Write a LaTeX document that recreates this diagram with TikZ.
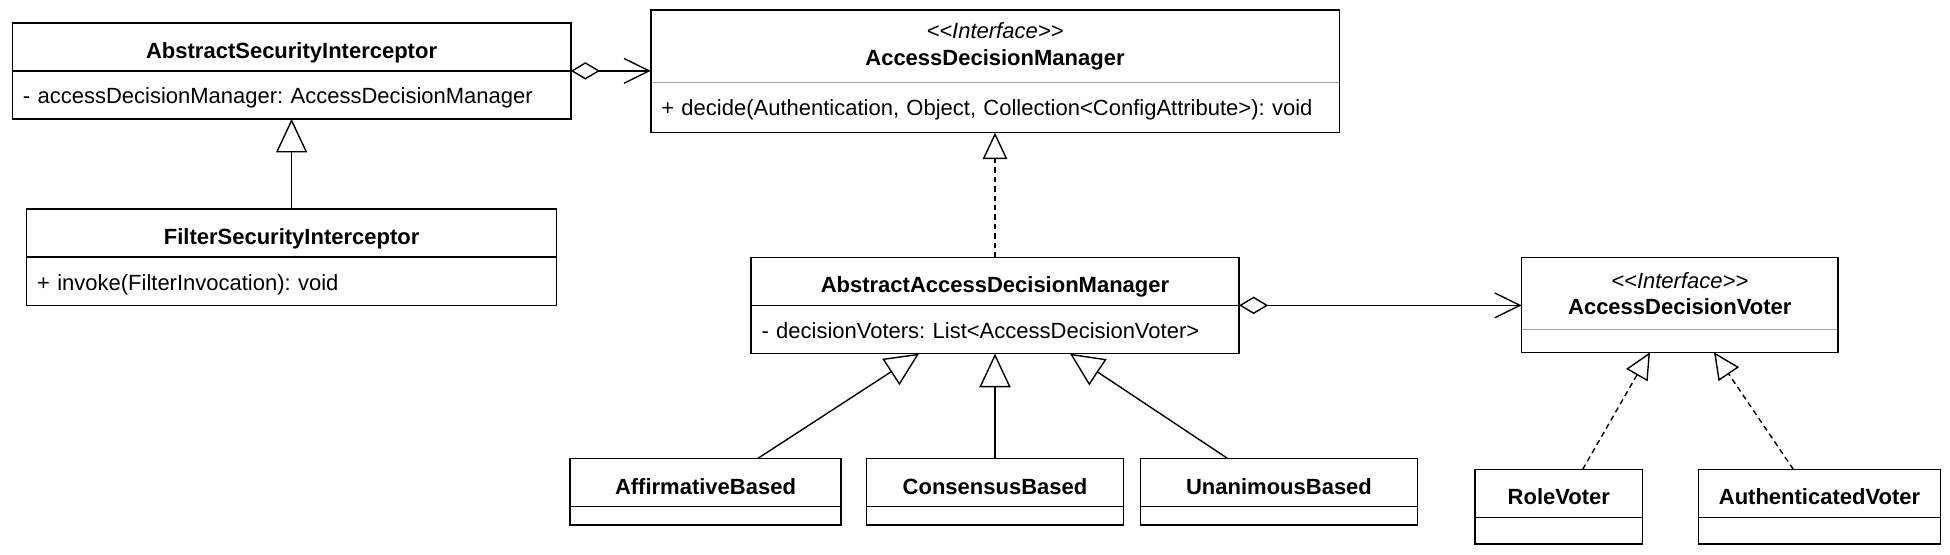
\documentclass[tikz,border=0pt]{standalone}
\usepackage{fontspec}
\setmainfont{Liberation Sans}
\usepackage{tikz}
\usetikzlibrary{positioning}
\usetikzlibrary{arrows.meta}
\definecolor{dividergray}{RGB}{165,165,165}
\tikzset{uml_diagram/.style={x=0.5pt, y=-0.5pt, line width=0.7pt}}
\tikzset{uml_head/.style={font=\fontsize{11}{13.25}\selectfont\bfseries, inner sep=0pt, outer sep=0pt, minimum width=#1, text height=17.75pt, text depth=6.25pt}}
\tikzset{uml_iface/.style={font=\fontsize{11}{13.25}\selectfont, align=center, inner sep=0pt, outer sep=0pt, minimum width=#1, minimum height=36.25pt}}
\tikzset{uml_body/.style={font=\fontsize{11}{13.25}\selectfont\frenchspacing, align=left, inner xsep=5.25pt, inner ysep=0pt, outer sep=0pt, text height=16.5pt, text depth=7.5pt}}
\tikzset{uml_empty/.style={inner sep=0pt, outer sep=0pt, minimum height=#1}}
\tikzset{uml_inherit/.style={-{Triangle[open, length=16.8pt, width=15.6pt]}}}
\tikzset{uml_realize/.style={dash pattern=on 2.7pt off 2pt, -{Triangle[open, length=13.2pt, width=12.3pt]}}}
\tikzset{uml_aggregate/.style={{Diamond[open, length=14.6pt, width=8.7pt]}-{Straight Barb[length=12.6pt, width=12.4pt]}}}

\begin{document}
\begin{tikzpicture}[uml_diagram]
    \fill[white] (0,0) rectangle (1950,554);
    %\draw[help lines, step=50] (0,0) grid (1950,554);
    \node[uml_head=279.2pt] (asi) at (291.6,46.85) {AbstractSecurityInterceptor};
    \node[uml_body, text width=268.7pt, below=0pt of asi] (asi-body) {- accessDecisionManager: AccessDecisionManager};
    \node[uml_head=265pt] (fsi) at (291.6,233) {FilterSecurityInterceptor};
    \node[uml_body, text width=254.5pt, text depth=7.85pt, below=0pt of fsi] (fsi-body) {+ invoke(FilterInvocation): void};

    \node[uml_iface=344.2pt] (adm) at (995,46.25) {{\itshape <\kern0pt<Interface>\kern0pt>}\\{\bfseries AccessDecisionManager}};
    \node[uml_body, text width=333.7pt, text depth=8.6pt, below=0pt of adm] (adm-body) {+ decide(Authentication, Object, Collection<ConfigAttribute>): void};
    \node[uml_head=244pt] (aadm) at (995,281.35) {AbstractAccessDecisionManager};
    \node[uml_body, text width=233.5pt, text depth=7.65pt, below=0pt of aadm] (aadm-body) {- decisionVoters: List<AccessDecisionVoter>};

    \node[uml_iface=158.25pt] (adv) at (1679.8,293.5) {{\itshape <\kern0pt<Interface>\kern0pt>}\\{\bfseries AccessDecisionVoter}};
    \node[uml_empty=11.25pt, below=0pt of adv] (adv-body) {};

    \node[uml_head=135.5pt] (aff) at (705.5,482.5) {AffirmativeBased};
    \node[uml_empty=9.3pt, below=0pt of aff] (aff-body) {};
    \node[uml_head=128.65pt] (cons) at (995,482.5) {ConsensusBased};
    \node[uml_empty=9.3pt, below=0pt of cons] (cons-body) {};
    \node[uml_head=138.4pt] (unan) at (1279,482.5) {UnanimousBased};
    \node[uml_empty=9.3pt, below=0pt of unan] (unan-body) {};

    \node[uml_head=83.85pt] (role) at (1558.8,493.3) {RoleVoter};
    \node[uml_empty=13.35pt, below=0pt of role] (role-body) {};
    \node[uml_head=121.2pt] (auth) at (1819.5,493.3) {AuthenticatedVoter};
    \node[uml_empty=13.35pt, below=0pt of auth] (auth-body) {};

    % class boxes
    \foreach \c in {asi,fsi,aadm,aff,cons,unan,role,auth} {
        \draw (\c.north west) rectangle (\c.east |- \c-body.south);
        \draw (\c.south west) -- (\c.south east);
    }
    \foreach \c in {adm,adv} {
        \draw (\c.north west) rectangle (\c.east |- \c-body.south);
        \draw[dividergray, shorten <=0.35pt, shorten >=0.35pt] (\c.south west) -- (\c.south east);
    }

    \path
        (fsi.north) edge [uml_inherit] (asi-body.south)
        (asi.south east) edge [uml_aggregate] (asi.south east -| adm.west)
        (aadm.north) edge [uml_realize] (adm-body.south)
        (aadm.south east) edge [uml_aggregate] (aadm.south east -| adv.west)
        ([xshift=26.1pt]aff.north) edge [uml_inherit] ([xshift=-38pt]aadm-body.south)
        (cons.north) edge [uml_inherit] (aadm-body.south)
        ([xshift=-25.65pt]unan.north) edge [uml_inherit] ([xshift=37.5pt]aadm-body.south)
        ([xshift=11.95pt]role.north) edge [uml_realize] ([xshift=-14.9pt]adv-body.south)
        ([xshift=-13.1pt]auth.north) edge [uml_realize] ([xshift=17.1pt]adv-body.south)
    ;
\end{tikzpicture}
\end{document}
